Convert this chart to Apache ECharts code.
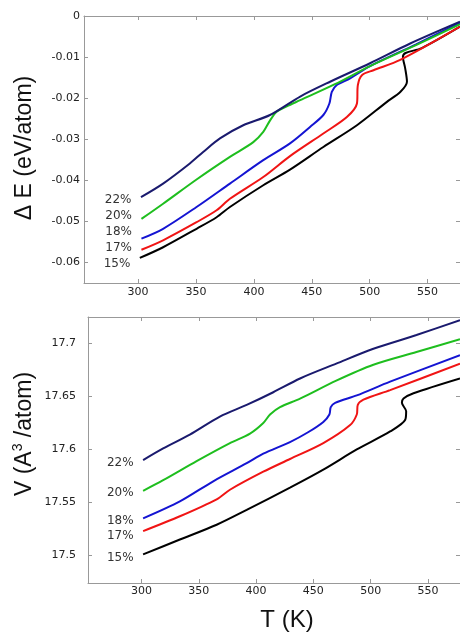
<!DOCTYPE html>
<html>
<head>
<meta charset="utf-8">
<script src="https://cdn.jsdelivr.net/npm/echarts@6/dist/echarts.min.js"></script>
<style>
  html, body { margin: 0; padding: 0; background: #fff; }
  #chart { width: 460px; height: 635px; }
</style>
</head>
<body>
<div id="chart"></div>
<script>
// series labels (drawn bottom to top so 22% ends up on top)
const labels = ['15%', '17%', '18%', '20%', '22%']
const colors = ['#000000', '#f01414', '#1414d2', '#1ebe1e', '#1a1a6e']

// top panel: dE vs T
const tE15 = [301.5, 321.6, 350.5, 367.8, 379.3, 408.1, 431.2, 460, 489, 514.9, 526.4, 532.2, 530.7, 528.7, 531, 545, 578]
const dE15 = [-0.0589, -0.0563, -0.0518, -0.0490, -0.0465, -0.0412, -0.0374, -0.0319, -0.0266, -0.0209, -0.0185, -0.0160, -0.0128, -0.0099, -0.0090, -0.0078, -0.0026]
const tE17 = [302.9, 321.6, 350.5, 367.8, 379.3, 408.1, 431.2, 460, 480.3, 489, 489.8, 493.3, 503.3, 526.4, 578]
const dE17 = [-0.0569, -0.0546, -0.0502, -0.0473, -0.0445, -0.0392, -0.0341, -0.0286, -0.0246, -0.0213, -0.0168, -0.0144, -0.0132, -0.0107, -0.0026]
const tE18 = [302.9, 321.6, 350.5, 379.3, 408.1, 431.2, 448.5, 460, 465.2, 467.3, 471.6, 483.1, 500.3, 540, 578]
const dE18 = [-0.0542, -0.0518, -0.0465, -0.0408, -0.0351, -0.0310, -0.0270, -0.0241, -0.0213, -0.0185, -0.0168, -0.0152, -0.0122, -0.0069, -0.0016]
const tE20 = [302.9, 321.6, 350.5, 379.3, 399.5, 408.1, 414, 419.7, 428.4, 440, 470, 500.3, 540, 578]
const dE20 = [-0.0494, -0.0457, -0.0398, -0.0343, -0.0307, -0.0282, -0.0254, -0.0233, -0.0220, -0.0205, -0.0166, -0.0122, -0.0071, -0.0020]
const tE22 = [302.5, 321.6, 344.7, 356.2, 370.7, 390.8, 413.9, 440, 465.8, 500.3, 535, 578]
const dE22 = [-0.0441, -0.0408, -0.0359, -0.0331, -0.0298, -0.0266, -0.0241, -0.0196, -0.0160, -0.0115, -0.0067, -0.0014]

// bottom panel: V vs T
const tV15 = [301.4, 333.5, 365.6, 391.8, 429.6, 458.7, 487.9, 517, 530.2, 531, 527.3, 528.7, 537.4, 578]
const vol15 = [17.501, 17.515, 17.529, 17.543, 17.564, 17.581, 17.600, 17.617, 17.628, 17.636, 17.644, 17.648, 17.653, 17.667]
const tV17 = [301.4, 333.5, 365.6, 377.2, 406.3, 429.6, 458.7, 482.1, 487.9, 488.8, 493.7, 517, 578]
const vol17 = [17.523, 17.537, 17.553, 17.562, 17.579, 17.591, 17.606, 17.623, 17.633, 17.642, 17.647, 17.656, 17.681]
const tV18 = [301.4, 333.5, 362.6, 391.8, 406.3, 429.6, 445, 458.7, 464, 465.2, 469, 487.9, 517, 578]
const vol18 = [17.535, 17.551, 17.570, 17.587, 17.596, 17.607, 17.616, 17.626, 17.633, 17.640, 17.644, 17.651, 17.664, 17.689]
const tV20 = [301.4, 318.9, 348.1, 377.2, 394.7, 406.3, 412.2, 420.9, 438.4, 470, 502.4, 540, 578]
const vol20 = [17.561, 17.571, 17.589, 17.606, 17.615, 17.625, 17.633, 17.640, 17.648, 17.665, 17.680, 17.692, 17.704]
const tV22 = [301.4, 318.9, 342.2, 368.4, 391.8, 415, 438.4, 470, 502.4, 540, 578]
const vol22 = [17.590, 17.601, 17.614, 17.631, 17.642, 17.654, 17.667, 17.681, 17.695, 17.708, 17.722]

// tick labels
const tTicks = [300, 350, 400, 450, 500, 550]
const eTicks = [0, -0.01, -0.02, -0.03, -0.04, -0.05, -0.06]
const vTicks = [17.5, 17.55, 17.6, 17.65, 17.7]

const topT = [tE15, tE17, tE18, tE20, tE22]
const topY = [dE15, dE17, dE18, dE20, dE22]
const botT = [tV15, tV17, tV18, tV20, tV22]
const botY = [vol15, vol17, vol18, vol20, vol22]

// nudges for the % labels (style only)
const topLabelOffset = [[0, 6], [0, -2], [0, -7], [0, -3], [0, 3]]
const botLabelOffset = [[0, 3], [0, 5], [0, 3], [0, 2], [0, 3]]

const chart = echarts.init(document.getElementById('chart'))

const axisLineStyle = { color: '#999', width: 1 }
const tickFont = { color: '#222', fontSize: 11, fontFamily: 'DejaVu Sans' }

const makeX = (gridIndex, pos, showLabel, margin) => ({
  type: 'value',
  gridIndex,
  position: pos,
  min: 253.3,
  max: 578,
  axisLine: { show: true, onZero: false, lineStyle: axisLineStyle },
  axisTick: { show: true, inside: true, length: 4, customValues: tTicks, lineStyle: axisLineStyle },
  axisLabel: { show: showLabel, customValues: tTicks, margin, ...tickFont },
  splitLine: { show: false }
})

const makeY = (gridIndex, pos, showLabel, min, max, ticks, margin) => ({
  type: 'value',
  gridIndex,
  position: pos,
  min,
  max,
  axisLine: { show: true, onZero: false, lineStyle: axisLineStyle },
  axisTick: { show: true, inside: true, length: 4, customValues: ticks, lineStyle: axisLineStyle },
  axisLabel: {
    show: showLabel,
    customValues: ticks,
    margin,
    formatter: (v) => String(+v.toFixed(3)),
    ...tickFont
  },
  splitLine: { show: false }
})

const makeSeries = (tArr, yArr, idx, axisIdx, offset) => ({
  type: 'line',
  name: labels[idx],
  xAxisIndex: axisIdx,
  yAxisIndex: axisIdx,
  data: tArr.map((t, i) => [t, yArr[i]]),
  showSymbol: false,
  smooth: 0.3,
  clip: true,
  lineStyle: { color: colors[idx], width: 2 },
  itemStyle: { color: colors[idx] },
  markPoint: {
    symbol: 'circle',
    symbolSize: 1,
    itemStyle: { color: 'rgba(0,0,0,0)' },
    label: {
      show: true,
      position: 'left',
      distance: 9,
      offset,
      formatter: labels[idx],
      color: '#333',
      fontSize: 12,
      fontFamily: 'DejaVu Sans'
    },
    data: [{ coord: [tArr[0], yArr[0]] }]
  }
})

const series = []
labels.forEach((_, i) => {
  series.push(makeSeries(topT[i], topY[i], i, 0, topLabelOffset[i]))
})
labels.forEach((_, i) => {
  series.push(makeSeries(botT[i], botY[i], i, 2, botLabelOffset[i]))
})

const option = {
  animation: false,
  grid: [
    { left: 84, top: 16, width: 376, height: 267 },
    { left: 88, top: 317, width: 372, height: 266 }
  ],
  xAxis: [
    makeX(0, 'bottom', true, 4),
    makeX(0, 'top', false, 4),
    makeX(1, 'bottom', true, 3),
    makeX(1, 'top', false, 3)
  ],
  yAxis: [
    makeY(0, 'left', true, -0.065, 0, eTicks, 4),
    makeY(0, 'right', false, -0.065, 0, eTicks, 4),
    makeY(1, 'left', true, 17.474, 17.725, vTicks, 12),
    makeY(1, 'right', false, 17.474, 17.725, vTicks, 12)
  ],
  graphic: [
    {
      type: 'text',
      x: 25,
      y: 148,
      rotation: Math.PI / 2,
      style: {
        text: 'Δ E (eV/atom)',
        fontSize: 23,
        fontFamily: 'Liberation Sans',
        fill: '#111',
        align: 'center',
        verticalAlign: 'middle'
      }
    },
    {
      type: 'text',
      x: 25,
      y: 434,
      rotation: Math.PI / 2,
      style: {
        text: '{a|V (A}{s|3}{a| /atom)}',
        fill: '#111',
        align: 'center',
        verticalAlign: 'middle',
        rich: {
          a: { fontSize: 23, fontFamily: 'Liberation Sans', fill: '#111' },
          s: { fontSize: 14, fontFamily: 'Liberation Sans', fill: '#111', padding: [0, 0, 14, 0] }
        }
      }
    },
    {
      type: 'text',
      x: 287,
      y: 620,
      style: {
        text: 'T (K)',
        fontSize: 24,
        fontFamily: 'Liberation Sans',
        fill: '#111',
        align: 'center',
        verticalAlign: 'middle'
      }
    }
  ],
  series
}

chart.setOption(option)
</script>
</body>
</html>
